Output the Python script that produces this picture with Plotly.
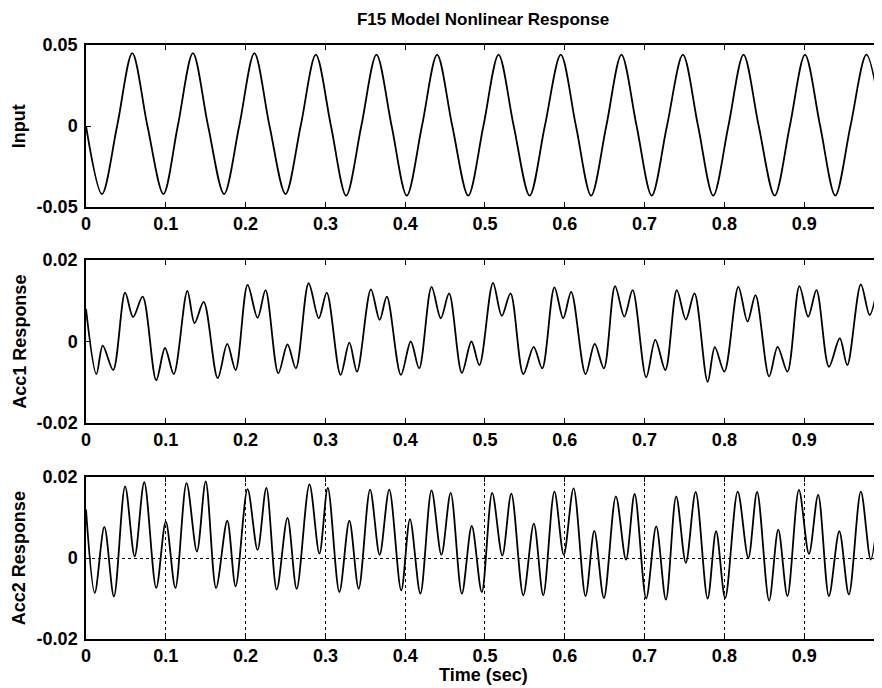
import plotly.graph_objects as go
from plotly.subplots import make_subplots

# Values (time in sec)
INPUT_T = [0.000, 0.020, 0.039, 0.058, 0.077, 0.097, 0.115, 0.134, 0.153, 0.173,
           0.192, 0.211, 0.230, 0.250, 0.269, 0.288, 0.307, 0.326, 0.345, 0.364,
           0.383, 0.402, 0.421, 0.440, 0.459, 0.479, 0.498, 0.517, 0.536, 0.556,
           0.575, 0.595, 0.614, 0.633, 0.652, 0.671, 0.690, 0.709, 0.728, 0.748,
           0.767, 0.786, 0.805, 0.824, 0.843, 0.863, 0.882, 0.901, 0.920, 0.939,
           0.958, 0.978, 0.997]
INPUT_Y = [0.000, -0.042, 0.000, 0.045, 0.000, -0.042, 0.000, 0.045, 0.000, -0.042,
           0.000, 0.045, 0.000, -0.042, 0.000, 0.044, 0.000, -0.043, 0.000, 0.044,
           0.000, -0.043, 0.000, 0.044, 0.000, -0.043, 0.000, 0.044, 0.000, -0.043,
           0.000, 0.044, 0.000, -0.043, 0.000, 0.044, 0.000, -0.043, 0.000, 0.044,
           0.000, -0.043, 0.000, 0.044, 0.000, -0.043, 0.000, 0.044, 0.000, -0.043,
           0.000, 0.044, 0.004]

ACC1_T = [0.000, 0.013, 0.021, 0.034, 0.049, 0.059, 0.071, 0.088, 0.099, 0.110,
          0.127, 0.136, 0.1475, 0.165, 0.177, 0.1875, 0.2025, 0.215, 0.225, 0.241,
          0.2525, 0.263, 0.279, 0.2917, 0.3017, 0.319, 0.330, 0.3396, 0.357, 0.368,
          0.377, 0.3946, 0.407, 0.4175, 0.433, 0.4446, 0.455, 0.471, 0.483, 0.493,
          0.510, 0.521, 0.532, 0.548, 0.561, 0.5717, 0.587, 0.598, 0.608, 0.626,
          0.6375, 0.649, 0.663, 0.6746, 0.685, 0.702, 0.7134, 0.726, 0.7404, 0.7517,
          0.7625, 0.779, 0.788, 0.800, 0.8175, 0.829, 0.839, 0.856, 0.8667, 0.879,
          0.894, 0.905, 0.9154, 0.931, 0.9446, 0.954, 0.971, 0.982, 0.9925]
ACC1_Y = [0.0080, -0.0080, -0.0010, -0.0070, 0.0120, 0.0060, 0.0110, -0.0095, -0.0016, -0.0080,
          0.0124, 0.0045, 0.0097, -0.0090, -0.0006, -0.0070, 0.0139, 0.0058, 0.0126, -0.0078,
          -0.0007, -0.0066, 0.0143, 0.0057, 0.0120, -0.0082, -0.0003, -0.0074, 0.0128, 0.0053,
          0.0110, -0.0082, 0.0000, -0.0066, 0.0134, 0.0057, 0.0118, -0.0077, 0.0000, -0.0058,
          0.0144, 0.0063, 0.0118, -0.0080, -0.0013, -0.0066, 0.0133, 0.0057, 0.0122, -0.0080,
          -0.0006, -0.0066, 0.0136, 0.0061, 0.0126, -0.0088, 0.0004, -0.0070, 0.0126, 0.0054,
          0.0118, -0.0099, -0.0014, -0.0074, 0.0134, 0.0049, 0.0114, -0.0086, -0.0013, -0.0074,
          0.0136, 0.0061, 0.0126, -0.0062, 0.0008, -0.0058, 0.0140, 0.0065, 0.0139]

ACC2_T = [0.000, 0.011, 0.023, 0.035, 0.049, 0.061, 0.073, 0.088, 0.100, 0.112,
          0.126, 0.139, 0.150, 0.163, 0.177, 0.1875, 0.2025, 0.215, 0.226, 0.239,
          0.2525, 0.264, 0.280, 0.2925, 0.303, 0.3175, 0.330, 0.3417, 0.356, 0.368,
          0.380, 0.395, 0.406, 0.419, 0.433, 0.4454, 0.457, 0.471, 0.4834, 0.496,
          0.509, 0.5217, 0.533, 0.548, 0.5612, 0.573, 0.587, 0.5987, 0.611, 0.626,
          0.637, 0.649, 0.664, 0.6767, 0.6875, 0.702, 0.7146, 0.7267, 0.7396, 0.7517,
          0.764, 0.779, 0.7896, 0.801, 0.8167, 0.830, 0.841, 0.856, 0.8675, 0.879,
          0.8934, 0.906, 0.9175, 0.931, 0.944, 0.956, 0.971, 0.9834, 0.9946]
ACC2_Y = [0.0120, -0.0086, 0.0077, -0.0095, 0.0177, 0.0004, 0.0187, -0.0074, 0.0090, -0.0074,
          0.0185, 0.0016, 0.0189, -0.0074, 0.0092, -0.0070, 0.0170, 0.0020, 0.0173, -0.0078,
          0.0099, -0.0076, 0.0182, 0.0011, 0.0173, -0.0084, 0.0092, -0.0076, 0.0169, 0.0008,
          0.0169, -0.0080, 0.0096, -0.0088, 0.0167, 0.0008, 0.0161, -0.0088, 0.0079, -0.0084,
          0.0161, 0.0006, 0.0159, -0.0092, 0.0085, -0.0092, 0.0164, 0.0008, 0.0172, -0.0094,
          0.0067, -0.0099, 0.0152, -0.0004, 0.0158, -0.0100, 0.0078, -0.0103, 0.0152, -0.0012,
          0.0163, -0.0100, 0.0066, -0.0099, 0.0164, 0.0000, 0.0163, -0.0105, 0.0070, -0.0094,
          0.0168, 0.0010, 0.0156, -0.0094, 0.0066, -0.0090, 0.0164, -0.0004, 0.0156]

X_TICKS = [0, 0.1, 0.2, 0.3, 0.4, 0.5, 0.6, 0.7, 0.8, 0.9]
X_TICK_LABELS = ['0', '0.1', '0.2', '0.3', '0.4', '0.5', '0.6', '0.7', '0.8', '0.9']
INPUT_TICKS = [-0.05, 0, 0.05]
INPUT_TICK_LABELS = ['-0.05', '0', '0.05']
ACC_TICKS = [-0.02, 0, 0.02]
ACC_TICK_LABELS = ['-0.02', '0', '0.02']
Y_TITLES = ['Input', 'Acc1 Response', 'Acc2 Response']

FONT = 'Liberation Sans, Arial, sans-serif'
PAGE = 8                      # browser body margin around the figure div
W, H = 882 - PAGE, 688 - PAGE
LEFT, TOP = 86 - PAGE, 45 - PAGE
BOTTOM = H - (639 - PAGE)
PLOT_H = H - TOP - BOTTOM
# page pixel rows (top, bottom) of each panel
PANELS = [(45, 207), (260, 423), (477, 639)]


def main():
    fig = make_subplots(rows=3, cols=1)

    series = [(INPUT_T, INPUT_Y), (ACC1_T, ACC1_Y), (ACC2_T, ACC2_Y)]
    for row, (t, y) in enumerate(series, start=1):
        fig.add_trace(go.Scatter(x=t, y=y, mode='lines',
                                 line=dict(color='black', width=1.8, shape='spline', smoothing=0.9),
                                 showlegend=False),
                      row=row, col=1)

    axis_common = dict(showline=True, linecolor='black', linewidth=1.5, mirror='ticks',
                       ticks='inside', ticklen=5, tickcolor='black', tickwidth=1.3, zeroline=False,
                       tickfont=dict(family=FONT, size=18, color='black', weight='bold'))

    for row, (top, bottom) in enumerate(PANELS, start=1):
        # convert page pixel rows to paper domain
        d0 = (639 - bottom) / PLOT_H
        d1 = (639 - top) / PLOT_H
        if row == 1:
            yt, yl, yr = INPUT_TICKS, INPUT_TICK_LABELS, [-0.05, 0.05]
        else:
            yt, yl, yr = ACC_TICKS, ACC_TICK_LABELS, [-0.02, 0.02]
        grid = row == 3
        fig.update_yaxes(domain=[d0, d1], range=yr, tickvals=yt, ticktext=yl,
                         showgrid=grid, gridcolor='black', griddash='dot', gridwidth=1,
                         ticklabelstandoff=3, row=row, col=1, **axis_common)
        fig.update_xaxes(range=[0, 0.995], tickvals=X_TICKS, ticktext=X_TICK_LABELS,
                         showgrid=grid, gridcolor='black', griddash='dot', gridwidth=1,
                         ticklabelstandoff=0, row=row, col=1, **axis_common)

        # rotated y axis title
        fig.add_annotation(text=Y_TITLES[row - 1], textangle=-90,
                           xref='paper', yref='paper',
                           x=-(86 - 19) / (W - LEFT), y=(d0 + d1) / 2,
                           xanchor='center', yanchor='middle', showarrow=False,
                           font=dict(family=FONT, size=18, color='black', weight='bold'))

    fig.add_annotation(text='Time (sec)', xref='paper', yref='paper',
                       x=0.5, y=-(675 - 639) / PLOT_H,
                       xanchor='center', yanchor='middle', showarrow=False,
                       font=dict(family=FONT, size=18, color='black', weight='bold'))

    fig.update_layout(
        width=W, height=H,
        margin=dict(l=LEFT, r=0, t=TOP, b=BOTTOM),
        plot_bgcolor='white', paper_bgcolor='white',
        title=dict(text='F15 Model Nonlinear Response', x=0.5, xref='paper',
                   y=1 - (19 - PAGE) / H, yref='container', xanchor='center', yanchor='middle',
                   font=dict(family=FONT, size=17, color='black', weight='bold')),
    )

    fig.write_html('out.html')


if __name__ == '__main__':
    main()
